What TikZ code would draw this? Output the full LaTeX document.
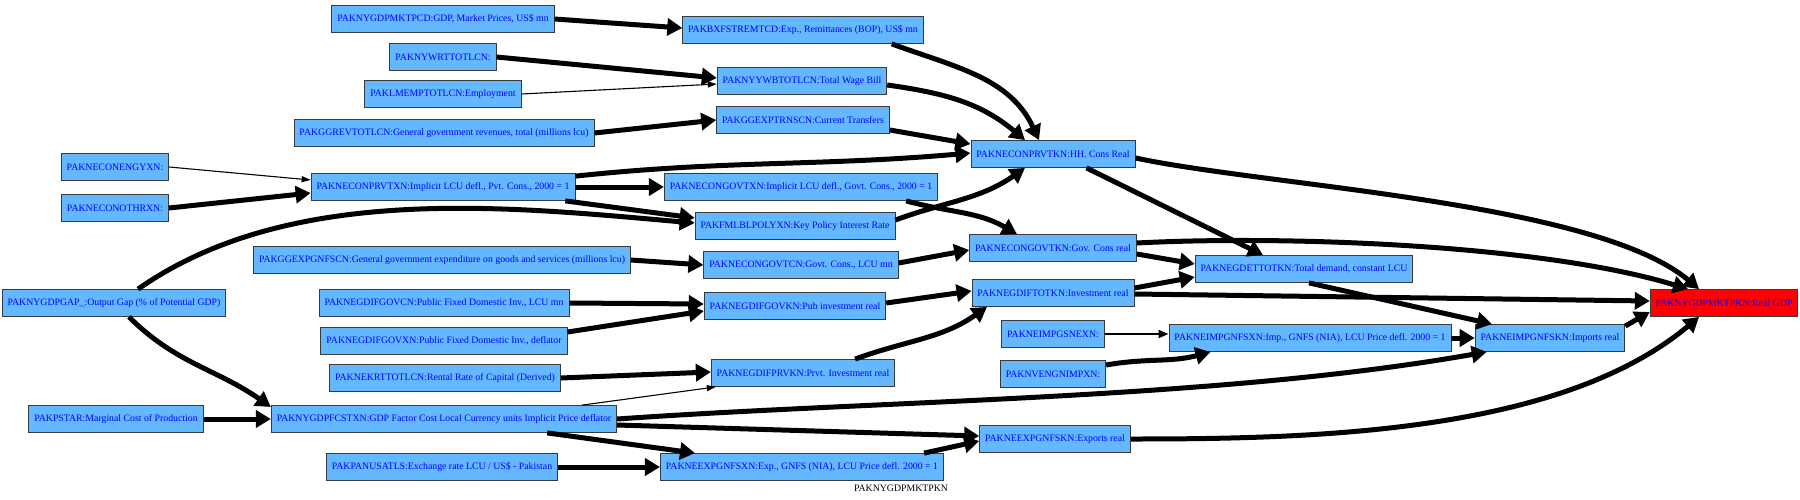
\documentclass[tikz,border=0pt]{standalone}
\usepackage{fontspec}
\setmainfont{Liberation Serif}
\usepackage{xcolor}
\usepackage{tikz}
\usetikzlibrary{arrows.meta}
\definecolor{NodeBlue}{HTML}{63B8FF}
\definecolor{NodeText}{HTML}{0000FF}
\definecolor{NodeLine}{HTML}{3A3A3A}

\begin{document}
\begin{tikzpicture}[
  x=1pt,y=1pt,
  box/.style={draw=NodeLine,line width=0.8pt,fill=NodeBlue,text=NodeText,minimum height=27pt,inner xsep=5.5pt,inner ysep=0pt,font=\fontsize{9.8}{11}\selectfont},
  goal/.style={box,fill=red},
  arr/.style={-{Triangle[length=15pt,width=17pt]},line width=5pt},
  midarr/.style={-{Triangle[length=10pt,width=8pt]},line width=2pt},
  thinarr/.style={-{Triangle[length=9pt,width=6pt]},line width=1.1pt}
]
\useasboundingbox (0,0) rectangle (1800,-499);
\node[box] (ngdpcd) at (443,-19) {PAKNYGDPMKTPCD:GDP, Market Prices, US\$ mn};
\node[box] (bxf) at (803,-30) {PAKBXFSTREMTCD:Exp., Remittances (BOP), US\$ mn};
\node[box] (nywrt) at (443,-57) {PAKNYWRTTOTLCN:};
\node[box] (nyywb) at (802,-81) {PAKNYYWBTOTLCN:Total Wage Bill};
\node[box] (lmemp) at (443,-94) {PAKLMEMPTOTLCN:Employment};
\node[box] (ggrev) at (444,-133) {PAKGGREVTOTLCN:General government revenues, total (millions lcu)};
\node[box] (ggtrn) at (803,-120) {PAKGGEXPTRNSCN:Current Transfers};
\node[box] (prvtkn) at (1053,-154) {PAKNECONPRVTKN:HH. Cons Real};
\node[box] (engy) at (115,-167) {PAKNECONENGYXN:};
\node[box] (othr) at (115,-208) {PAKNECONOTHRXN:};
\node[box] (prvtxn) at (443,-187) {PAKNECONPRVTXN:Implicit LCU defl., Pvt. Cons., 2000 = 1};
\node[box] (govtxn) at (801,-187) {PAKNECONGOVTXN:Implicit LCU defl., Govt. Cons., 2000 = 1};
\node[box] (poly) at (795,-226) {PAKFMLBLPOLYXN:Key Policy Interest Rate};
\node[box] (ggexp) at (442,-260) {PAKGGEXPGNFSCN:General government expenditure on goods and services (millions lcu)};
\node[box] (govtcn) at (801,-265) {PAKNECONGOVTCN:Govt. Cons., LCU mn};
\node[box] (govtkn) at (1053,-248) {PAKNECONGOVTKN:Gov. Cons real};
\node[box] (dettot) at (1304,-269) {PAKNEGDETTOTKN:Total demand, constant LCU};
\node[box] (gap) at (114,-303) {PAKNYGDPGAP\_:Output Gap (\% of Potential GDP)};
\node[box] (difgovcn) at (444,-303) {PAKNEGDIFGOVCN:Public Fixed Domestic Inv., LCU mn};
\node[box] (difgovkn) at (795,-306) {PAKNEGDIFGOVKN:Pub investment real};
\node[box] (diftot) at (1053,-293) {PAKNEGDIFTOTKN:Investment real};
\node[goal] (gdp) at (1724,-303) {PAKNYGDPMKTPKN:Real GDP};
\node[box] (difgovxn) at (444,-341) {PAKNEGDIFGOVXN:Public Fixed Domestic Inv., deflator};
\node[box] (impsn) at (1053,-334) {PAKNEIMPGSNEXN:};
\node[box] (impxn) at (1310,-338) {PAKNEIMPGNFSXN:Imp., GNFS (NIA), LCU Price defl. 2000 = 1};
\node[box] (impkn) at (1550,-338) {PAKNEIMPGNFSKN:Imports real};
\node[box] (krt) at (445,-378) {PAKNEKRTTOTLCN:Rental Rate of Capital (Derived)};
\node[box] (difprv) at (803,-373) {PAKNEGDIFPRVKN:Prvt. Investment real};
\node[box] (veng) at (1053,-374) {PAKNVENGNIMPXN:};
\node[box] (pstar) at (116,-419) {PAKPSTAR:Marginal Cost of Production};
\node[box] (fcst) at (444,-419) {PAKNYGDPFCSTXN:GDP Factor Cost Local Currency units Implicit Price deflator};
\node[box] (expkn) at (1055,-439) {PAKNEEXPGNFSKN:Exports real};
\node[box] (panus) at (442,-467) {PAKPANUSATLS:Exchange rate LCU / US\$ - Pakistan};
\node[box] (expxn) at (802,-467) {PAKNEEXPGNFSXN:Exp., GNFS (NIA), LCU Price defl. 2000 = 1};
\node[font=\fontsize{9.8}{11}\selectfont] (title) at (901,-488) {PAKNYGDPMKTPKN};

\draw[arr] (ngdpcd.east) -- ([yshift=2]bxf.west);
\draw[arr] (nywrt.east) -- ([yshift=3]nyywb.west);
\draw[thinarr] (lmemp.east) -- ([yshift=-3]nyywb.west);
\draw[arr] (ggrev.east) -- (ggtrn.west);
\draw[arr] ([xshift=-32]bxf.south east) to[out=-20,in=115] ([xshift=-14]prvtkn.north);
\draw[arr] ([yshift=-4]nyywb.east) to[out=-8,in=140] ([xshift=-28]prvtkn.north);
\draw[arr] ([yshift=-10]ggtrn.east) -- ([yshift=10]prvtkn.west);
\draw[arr] ([yshift=-3]prvtxn.north east) to[out=6,in=185] ([yshift=1]prvtkn.west);
\draw[thinarr] (engy.east) -- ([yshift=7]prvtxn.west);
\draw[arr] (othr.east) -- ([yshift=-6]prvtxn.west);
\draw[arr] (prvtxn.east) -- (govtxn.west);
\draw[arr] ([xshift=-10]prvtxn.south east) -- ([yshift=8]poly.west);
\draw[arr] ([xshift=24]gap.north) to[out=35,in=175,looseness=0.85] ([yshift=3]poly.west);
\draw[arr] ([yshift=6]poly.east) to[out=20,in=-145] ([xshift=-28]prvtkn.south);
\draw[arr] ([xshift=-32]govtxn.south east) to[out=-15,in=150] ([xshift=-36]govtkn.north);
\draw[arr] (ggexp.east) -- (govtcn.west);
\draw[arr] ([yshift=2]govtcn.east) -- ([yshift=-2]govtkn.west);
\draw[arr] ([yshift=-4]prvtkn.east) to[out=-12,in=140,looseness=0.6] ([xshift=-25]gdp.north);
\draw[arr] ([xshift=-49]prvtkn.south east) -- ([xshift=-41]dettot.north);
\draw[arr] ([yshift=5]govtkn.east) to[out=3,in=163,looseness=0.7] ([xshift=-36]gdp.north);
\draw[arr] ([yshift=-6]govtkn.east) -- ([yshift=5]dettot.west);
\draw[arr] ([yshift=5]diftot.east) -- ([yshift=-8]dettot.west);
\draw[arr] ([yshift=-1]diftot.east) -- ([yshift=2]gdp.west);
\draw[arr] ([xshift=5]dettot.south) -- ([xshift=-58]impkn.north);
\draw[arr] (difgovcn.east) -- ([yshift=2]difgovkn.west);
\draw[arr] ([yshift=9]difgovxn.east) -- ([yshift=-5]difgovkn.west);
\draw[arr] ([yshift=3]difgovkn.east) -- ([yshift=2]diftot.west);
\draw[arr] ([xshift=52]difprv.north) to[out=20,in=-145] ([xshift=-66]diftot.south);
\draw[arr] (krt.east) -- ([yshift=1]difprv.west);
\draw[thinarr] ([xshift=-35]fcst.north east) -- ([xshift=5]difprv.south west);
\draw[arr] ([xshift=15]gap.south) to[out=-45,in=145] ([yshift=12]fcst.west);
\draw[arr] (pstar.east) -- (fcst.west);
\draw[arr] (fcst.east) to[out=4,in=-170,looseness=0.8] ([xshift=12]impkn.south west);
\draw[arr] ([yshift=-6]fcst.east) -- ([yshift=3]expkn.west);
\draw[arr] ([xshift=-70]fcst.south east) -- ([xshift=-107]expxn.north);
\draw[arr] (panus.east) -- (expxn.west);
\draw[arr] ([xshift=-20]expxn.north east) -- ([yshift=-2]expkn.west);
\draw[arr] (expkn.east) to[out=0,in=-140,looseness=0.8] ([xshift=-25]gdp.south);
\draw[midarr] (impsn.east) -- ([yshift=4]impxn.west);
\draw[arr] ([yshift=9]veng.east) to[out=10,in=-165] ([xshift=42]impxn.south west);
\draw[arr] (impxn.east) -- (impkn.west);
\draw[arr] ([yshift=12]impkn.east) -- ([yshift=-9]gdp.west);
\end{tikzpicture}
\end{document}
